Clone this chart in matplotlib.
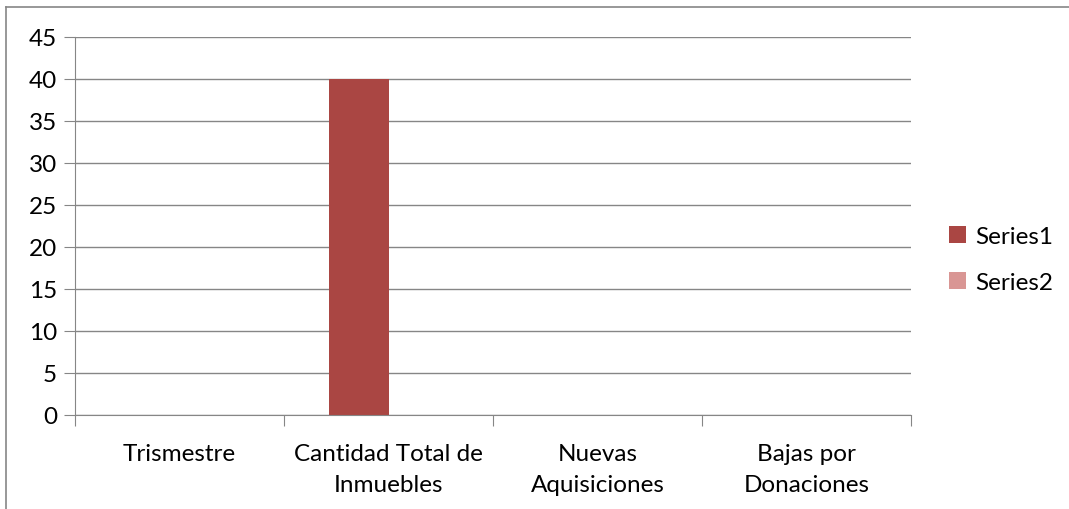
import matplotlib
matplotlib.use('Agg')
import numpy as np
from matplotlib import pyplot as plt
from matplotlib.lines import Line2D

categories = ['Trismestre', 'Cantidad Total de\nInmuebles', 'Nuevas\nAquisiciones', 'Bajas por\nDonaciones']
series1 = [0, 40, 0, 0]
series2 = [0, 0, 0, 0]
yticks = [0, 5, 10, 15, 20, 25, 30, 35, 40, 45]

plt.rcParams['font.family'] = ['Lato', 'DejaVu Sans']
grid_c = '#868686'
fs = 17.5

fig = plt.figure(figsize=(10.69, 5.10), dpi=100)
ax = fig.add_axes([75/1069, 1 - 416/510, (911 - 75)/1069, (416 - 38)/510])

x = np.arange(len(categories))
w = 1 / 3.5
ax.bar(x - w/2, series1, w, color='#AA4643', label='Series1')
ax.bar(x + w/2, series2, w, color='#D99694', label='Series2')

ax.set_xlim(-0.5, 3.5)
ax.set_ylim(0, 45)
ax.set_yticks(yticks)
ax.yaxis.grid(True, color=grid_c, lw=1)
ax.set_axisbelow(True)
ax.tick_params(axis='y', length=8, color=grid_c, labelsize=fs, pad=5)

ax.set_xticks(np.arange(-0.5, 4, 1))
ax.set_xticklabels([])
ax.set_xticks(x, minor=True)
ax.set_xticklabels(categories, minor=True, fontsize=fs, linespacing=1.6)
ax.tick_params(axis='x', which='major', length=8, color=grid_c)
ax.tick_params(axis='x', which='minor', length=0, pad=20)

for s in ['top', 'right']:
    ax.spines[s].set_visible(False)
for s in ['left', 'bottom']:
    ax.spines[s].set_color(grid_c)

ax.legend(loc='center left', bbox_to_anchor=(1.045, 0.411), frameon=False,
          fontsize=fs, handlelength=0.7, handleheight=0.7, handletextpad=0.4,
          labelspacing=1.0, borderpad=0, borderaxespad=0)

# outer chart border (only left and top visible in the crop)
fig.add_artist(Line2D([6/1069, 6/1069], [0, 1 - 8/510], transform=fig.transFigure, color='#868686', lw=1.2))
fig.add_artist(Line2D([6/1069, 1], [1 - 8/510, 1 - 8/510], transform=fig.transFigure, color='#868686', lw=1.2))

fig.savefig('out.png', dpi=100)
